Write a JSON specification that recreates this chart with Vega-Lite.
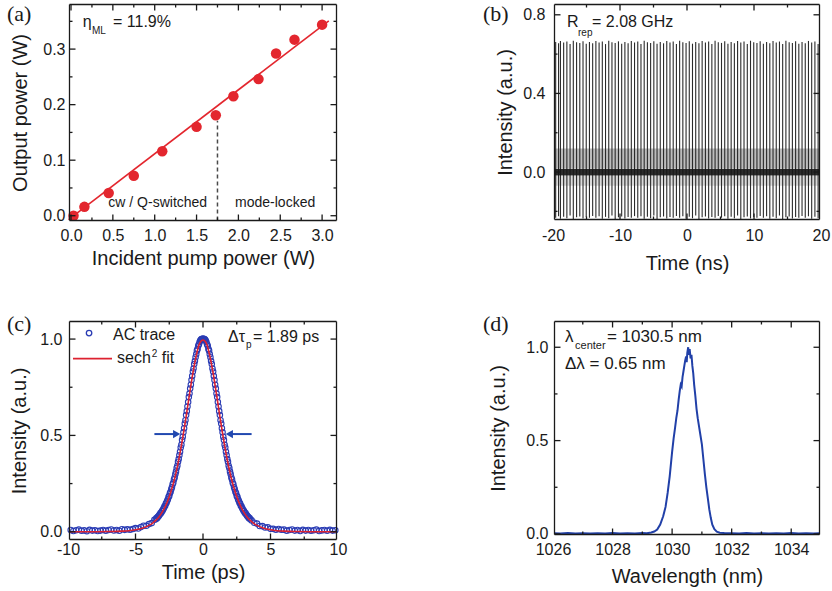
{
"$schema": "https://vega.github.io/schema/vega-lite/v6.json",
"background": "white",
"padding": {"left": 7, "top": 3, "right": 2, "bottom": 2},
"columns": 2,
"spacing": {"row": 98, "column": 215},
"bounds": "flush",
"config": {
  "font": "Liberation Sans",
  "view": {"stroke": null},
  "axis": {"domain": false, "ticks": false, "grid": false, "labelFont": "Liberation Sans", "labelFontSize": 16, "labelColor": "#1a1a1a", "titleFont": "Liberation Sans", "titleFontSize": 20, "titleFontWeight": "normal", "titleColor": "#1a1a1a", "labelFlush": false, "labelOverlap": false, "labelBound": false},
  "text": {"font": "Liberation Sans", "color": "#1a1a1a", "align": "left", "baseline": "alphabetic"}
},
"concat": [
{
  "width": 270, "height": 219,
  "title": {"text": "(a)", "anchor": "start", "frame": "group", "orient": "top", "offset": 0, "dx": -61, "dy": 23, "baseline": "top", "font": "Liberation Serif", "fontSize": 22, "fontWeight": "normal", "color": "#1a1a1a"},
  "layer": [
    {
      "data": {"values": [{"pump": -0.03, "out": -0.007}, {"pump": 3.08, "out": 0.351}]},
      "mark": {"type": "line", "color": "#e3262e", "strokeWidth": 1.6, "clip": true},
      "encoding": {
        "x": {"field": "pump", "type": "quantitative", "scale": {"domain": [-0.036, 3.19], "nice": false, "zero": false}, "axis": null},
        "y": {"field": "out", "type": "quantitative", "scale": {"domain": [-0.0113, 0.383], "nice": false, "zero": false}, "axis": null}
      }
    },
    {
      "data": {"values": [{"pump": 1.75, "lo": -0.0086, "hi": 0.171}]},
      "mark": {"type": "rule", "color": "#4a4a4a", "strokeWidth": 1.5, "strokeDash": [4, 3]},
      "encoding": {
        "x": {"field": "pump", "type": "quantitative", "scale": {"domain": [-0.036, 3.19], "nice": false, "zero": false}, "axis": null},
        "y": {"field": "lo", "type": "quantitative", "scale": {"domain": [-0.0113, 0.383], "nice": false, "zero": false}, "axis": null},
        "y2": {"field": "hi"}
      }
    },
    {
      "data": {"values": [
        {"pump": 0.03, "out": 0.000}, {"pump": 0.16, "out": 0.016}, {"pump": 0.45, "out": 0.041},
        {"pump": 0.75, "out": 0.072}, {"pump": 1.09, "out": 0.116}, {"pump": 1.50, "out": 0.160},
        {"pump": 1.73, "out": 0.181}, {"pump": 1.94, "out": 0.215}, {"pump": 2.24, "out": 0.246},
        {"pump": 2.45, "out": 0.292}, {"pump": 2.67, "out": 0.317}, {"pump": 3.00, "out": 0.344}
      ]},
      "mark": {"type": "point", "shape": "circle", "filled": true, "size": 110, "color": "#e3262e", "opacity": 1},
      "encoding": {
        "x": {"field": "pump", "type": "quantitative", "scale": {"domain": [-0.036, 3.19], "nice": false, "zero": false},
              "axis": {"orient": "bottom", "title": "Incident pump power (W)", "values": [0,0.5,1,1.5,2,2.5,3], "format": ".1f", "labelPadding": 5, "titlePadding": 5}},
        "y": {"field": "out", "type": "quantitative", "scale": {"domain": [-0.0113, 0.383], "nice": false, "zero": false},
              "axis": {"orient": "left", "title": "Output power (W)", "values": [0,0.1,0.2,0.3], "format": ".1f", "labelPadding": 3, "titlePadding": 12}}
      }
    },
    {
      "data": {"values": [
        {"a": -0.0181, "b": -0.0086, "b2": 0.3803}, {"a": 3.1721, "b": -0.0086, "b2": 0.3803},
        {"a": 0, "b": -0.0086, "b2": 0.0022}, {"a": 0.5, "b": -0.0086, "b2": 0.0022}, {"a": 1, "b": -0.0086, "b2": 0.0022}, {"a": 1.5, "b": -0.0086, "b2": 0.0022},
        {"a": 2, "b": -0.0086, "b2": 0.0022}, {"a": 2.5, "b": -0.0086, "b2": 0.0022}, {"a": 3, "b": -0.0086, "b2": 0.0022},
        {"a": 0, "b": 0.3695, "b2": 0.3803}, {"a": 0.5, "b": 0.3695, "b2": 0.3803}, {"a": 1, "b": 0.3695, "b2": 0.3803}, {"a": 1.5, "b": 0.3695, "b2": 0.3803},
        {"a": 2, "b": 0.3695, "b2": 0.3803}, {"a": 2.5, "b": 0.3695, "b2": 0.3803}, {"a": 3, "b": 0.3695, "b2": 0.3803},
        {"a": 0.25, "b": -0.0086, "b2": -0.0032}, {"a": 0.75, "b": -0.0086, "b2": -0.0032}, {"a": 1.25, "b": -0.0086, "b2": -0.0032},
        {"a": 1.75, "b": -0.0086, "b2": -0.0032}, {"a": 2.25, "b": -0.0086, "b2": -0.0032}, {"a": 2.75, "b": -0.0086, "b2": -0.0032},
        {"a": 0.25, "b": 0.3749, "b2": 0.3803}, {"a": 0.75, "b": 0.3749, "b2": 0.3803}, {"a": 1.25, "b": 0.3749, "b2": 0.3803},
        {"a": 1.75, "b": 0.3749, "b2": 0.3803}, {"a": 2.25, "b": 0.3749, "b2": 0.3803}, {"a": 2.75, "b": 0.3749, "b2": 0.3803}
      ]},
      "mark": {"type": "rule", "color": "#1a1a1a", "strokeWidth": 1.3},
      "encoding": {
        "x": {"field": "a", "type": "quantitative", "scale": {"domain": [-0.036, 3.19], "nice": false, "zero": false}, "axis": null},
        "y": {"field": "b", "type": "quantitative", "scale": {"domain": [-0.0113, 0.383], "nice": false, "zero": false}, "axis": null},
        "y2": {"field": "b2"}
      }
    },
    {
      "data": {"values": [
        {"b": -0.0086, "a": -0.0181, "a2": 3.1721}, {"b": 0.3803, "a": -0.0181, "a2": 3.1721},
        {"b": 0, "a": -0.0181, "a2": 0.0536}, {"b": 0.1, "a": -0.0181, "a2": 0.0536}, {"b": 0.2, "a": -0.0181, "a2": 0.0536}, {"b": 0.3, "a": -0.0181, "a2": 0.0536},
        {"b": 0, "a": 3.1004, "a2": 3.1721}, {"b": 0.1, "a": 3.1004, "a2": 3.1721}, {"b": 0.2, "a": 3.1004, "a2": 3.1721}, {"b": 0.3, "a": 3.1004, "a2": 3.1721},
        {"b": 0.05, "a": -0.0181, "a2": 0.0178}, {"b": 0.15, "a": -0.0181, "a2": 0.0178}, {"b": 0.25, "a": -0.0181, "a2": 0.0178}, {"b": 0.35, "a": -0.0181, "a2": 0.0178},
        {"b": 0.05, "a": 3.1363, "a2": 3.1721}, {"b": 0.15, "a": 3.1363, "a2": 3.1721}, {"b": 0.25, "a": 3.1363, "a2": 3.1721}, {"b": 0.35, "a": 3.1363, "a2": 3.1721}
      ]},
      "mark": {"type": "rule", "color": "#1a1a1a", "strokeWidth": 1.3},
      "encoding": {
        "x": {"field": "a", "type": "quantitative", "scale": {"domain": [-0.036, 3.19], "nice": false, "zero": false}, "axis": null},
        "x2": {"field": "a2"},
        "y": {"field": "b", "type": "quantitative", "scale": {"domain": [-0.0113, 0.383], "nice": false, "zero": false}, "axis": null}
      }
    },
    {
      "data": {"values": [{"pump": 0.14, "out": 0.339, "label": "η"}, {"pump": 0.502, "out": 0.339, "label": "= 11.9%"}]},
      "mark": {"type": "text", "fontSize": 16},
      "encoding": {
        "x": {"field": "pump", "type": "quantitative", "scale": {"domain": [-0.036, 3.19], "nice": false, "zero": false}, "axis": null},
        "y": {"field": "out", "type": "quantitative", "scale": {"domain": [-0.0113, 0.383], "nice": false, "zero": false}, "axis": null},
        "text": {"field": "label"}
      }
    },
    {
      "data": {"values": [{"pump": 0.251, "out": 0.327, "label": "ML"}]},
      "mark": {"type": "text", "fontSize": 10},
      "encoding": {
        "x": {"field": "pump", "type": "quantitative", "scale": {"domain": [-0.036, 3.19], "nice": false, "zero": false}, "axis": null},
        "y": {"field": "out", "type": "quantitative", "scale": {"domain": [-0.0113, 0.383], "nice": false, "zero": false}, "axis": null},
        "text": {"field": "label"}
      }
    },
    {
      "data": {"values": [{"pump": 0.446, "out": 0.0151, "label": "cw / Q-switched"}, {"pump": 1.960, "out": 0.0151, "label": "mode-locked"}]},
      "mark": {"type": "text", "fontSize": 14},
      "encoding": {
        "x": {"field": "pump", "type": "quantitative", "scale": {"domain": [-0.036, 3.19], "nice": false, "zero": false}, "axis": null},
        "y": {"field": "out", "type": "quantitative", "scale": {"domain": [-0.0113, 0.383], "nice": false, "zero": false}, "axis": null},
        "text": {"field": "label"}
      }
    }
  ],
  "resolve": {"axis": {"x": "independent", "y": "independent"}}
},
{
  "width": 268, "height": 218,
  "title": {"text": "(b)", "anchor": "start", "frame": "group", "orient": "top", "offset": 0, "dx": -70, "dy": 23, "baseline": "top", "font": "Liberation Serif", "fontSize": 22, "fontWeight": "normal", "color": "#1a1a1a"},
  "layer": [
    {
      "data": {"values": [{"t": -19.78, "lo": 0.02, "hi": 0.12}, {"t": 19.78, "lo": 0.02, "hi": 0.12}]},
      "mark": {"type": "area", "color": "#6a6a6a", "opacity": 0.45},
      "encoding": {
        "x": {"field": "t", "type": "quantitative", "scale": {"domain": [-20, 20], "nice": false, "zero": false}, "axis": null},
        "y": {"field": "lo", "type": "quantitative", "scale": {"domain": [-0.249, 0.86], "nice": false, "zero": false}, "axis": null},
        "y2": {"field": "hi"}
      }
    },
    {
      "data": {"values": [{"t": -19.78, "lo": -0.07, "hi": -0.02}, {"t": 19.78, "lo": -0.07, "hi": -0.02}]},
      "mark": {"type": "area", "color": "#6a6a6a", "opacity": 0.25},
      "encoding": {
        "x": {"field": "t", "type": "quantitative", "scale": {"domain": [-20, 20], "nice": false, "zero": false}, "axis": null},
        "y": {"field": "lo", "type": "quantitative", "scale": {"domain": [-0.249, 0.86], "nice": false, "zero": false}, "axis": null},
        "y2": {"field": "hi"}
      }
    },
    {
      "data": {"values": [
        {"t": -19.60, "hi": 0.662, "lo": -0.232}, {"t": -19.17, "hi": 0.655, "lo": -0.225}, {"t": -18.89, "hi": 0.667, "lo": -0.238},
        {"t": -18.41, "hi": 0.659, "lo": -0.228}, {"t": -17.93, "hi": 0.664, "lo": -0.235}, {"t": -17.45, "hi": 0.651, "lo": -0.221},
        {"t": -16.97, "hi": 0.668, "lo": -0.240}, {"t": -16.48, "hi": 0.660, "lo": -0.230}, {"t": -16.00, "hi": 0.657, "lo": -0.226},
        {"t": -15.52, "hi": 0.665, "lo": -0.236}, {"t": -15.04, "hi": 0.653, "lo": -0.229}, {"t": -14.56, "hi": 0.662, "lo": -0.233},
        {"t": -14.08, "hi": 0.655, "lo": -0.224}, {"t": -13.60, "hi": 0.667, "lo": -0.232}, {"t": -13.12, "hi": 0.659, "lo": -0.225},
        {"t": -12.64, "hi": 0.664, "lo": -0.238}, {"t": -12.16, "hi": 0.651, "lo": -0.228}, {"t": -11.68, "hi": 0.668, "lo": -0.235},
        {"t": -11.20, "hi": 0.660, "lo": -0.221}, {"t": -10.72, "hi": 0.657, "lo": -0.240}, {"t": -10.23, "hi": 0.665, "lo": -0.230},
        {"t": -9.75, "hi": 0.653, "lo": -0.226}, {"t": -9.27, "hi": 0.662, "lo": -0.236}, {"t": -8.79, "hi": 0.655, "lo": -0.229},
        {"t": -8.31, "hi": 0.667, "lo": -0.233}, {"t": -7.83, "hi": 0.659, "lo": -0.224}, {"t": -7.35, "hi": 0.664, "lo": -0.232},
        {"t": -6.87, "hi": 0.651, "lo": -0.225}, {"t": -6.39, "hi": 0.668, "lo": -0.238}, {"t": -5.91, "hi": 0.660, "lo": -0.228},
        {"t": -5.43, "hi": 0.657, "lo": -0.235}, {"t": -4.95, "hi": 0.665, "lo": -0.221}, {"t": -4.47, "hi": 0.653, "lo": -0.240},
        {"t": -3.99, "hi": 0.662, "lo": -0.230}, {"t": -3.50, "hi": 0.655, "lo": -0.226}, {"t": -3.02, "hi": 0.667, "lo": -0.236},
        {"t": -2.54, "hi": 0.659, "lo": -0.229}, {"t": -2.06, "hi": 0.664, "lo": -0.233}, {"t": -1.58, "hi": 0.651, "lo": -0.224},
        {"t": -1.10, "hi": 0.668, "lo": -0.232}, {"t": -0.62, "hi": 0.660, "lo": -0.225}, {"t": -0.14, "hi": 0.657, "lo": -0.238},
        {"t": 0.34, "hi": 0.665, "lo": -0.228}, {"t": 0.82, "hi": 0.653, "lo": -0.235}, {"t": 1.30, "hi": 0.662, "lo": -0.221},
        {"t": 1.78, "hi": 0.655, "lo": -0.240}, {"t": 2.26, "hi": 0.667, "lo": -0.230}, {"t": 2.75, "hi": 0.659, "lo": -0.226},
        {"t": 3.23, "hi": 0.664, "lo": -0.236}, {"t": 3.71, "hi": 0.651, "lo": -0.229}, {"t": 4.19, "hi": 0.668, "lo": -0.233},
        {"t": 4.67, "hi": 0.660, "lo": -0.224}, {"t": 5.15, "hi": 0.657, "lo": -0.232}, {"t": 5.63, "hi": 0.665, "lo": -0.225},
        {"t": 6.11, "hi": 0.653, "lo": -0.238}, {"t": 6.59, "hi": 0.662, "lo": -0.228}, {"t": 7.07, "hi": 0.655, "lo": -0.235},
        {"t": 7.55, "hi": 0.667, "lo": -0.221}, {"t": 8.03, "hi": 0.659, "lo": -0.240}, {"t": 8.51, "hi": 0.664, "lo": -0.230},
        {"t": 9.00, "hi": 0.651, "lo": -0.226}, {"t": 9.48, "hi": 0.668, "lo": -0.236}, {"t": 9.96, "hi": 0.660, "lo": -0.229},
        {"t": 10.44, "hi": 0.657, "lo": -0.233}, {"t": 10.92, "hi": 0.665, "lo": -0.224}, {"t": 11.40, "hi": 0.653, "lo": -0.232},
        {"t": 11.88, "hi": 0.662, "lo": -0.225}, {"t": 12.36, "hi": 0.655, "lo": -0.238}, {"t": 12.84, "hi": 0.667, "lo": -0.228},
        {"t": 13.32, "hi": 0.659, "lo": -0.235}, {"t": 13.80, "hi": 0.664, "lo": -0.221}, {"t": 14.28, "hi": 0.651, "lo": -0.240},
        {"t": 14.76, "hi": 0.668, "lo": -0.230}, {"t": 15.25, "hi": 0.660, "lo": -0.226}, {"t": 15.73, "hi": 0.657, "lo": -0.236},
        {"t": 16.21, "hi": 0.665, "lo": -0.229}, {"t": 16.69, "hi": 0.653, "lo": -0.233}, {"t": 17.17, "hi": 0.662, "lo": -0.224},
        {"t": 17.65, "hi": 0.655, "lo": -0.232}, {"t": 18.13, "hi": 0.667, "lo": -0.225}, {"t": 18.61, "hi": 0.659, "lo": -0.238},
        {"t": 19.09, "hi": 0.664, "lo": -0.228}, {"t": 19.57, "hi": 0.651, "lo": -0.235}
      ]},
      "mark": {"type": "rule", "color": "#2a2a2a", "strokeWidth": 1.1},
      "encoding": {
        "x": {"field": "t", "type": "quantitative", "scale": {"domain": [-20, 20], "nice": false, "zero": false},
              "axis": {"orient": "bottom", "title": "Time (ns)", "values": [-20,-10,0,10,20],
                       "labelExpr": "datum.value < 0 ? '-' + abs(datum.value) : '' + datum.value", "labelPadding": 6, "titlePadding": 10}},
        "y": {"field": "lo", "type": "quantitative", "scale": {"domain": [-0.249, 0.86], "nice": false, "zero": false},
              "axis": {"orient": "left", "title": "Intensity (a.u.)", "values": [0,0.4,0.8], "format": ".1f", "labelPadding": 8, "titlePadding": 7}},
        "y2": {"field": "hi"}
      }
    },
    {
      "data": {"values": [{"t": -19.78, "lo": -0.017, "hi": 0.017}, {"t": 19.78, "lo": -0.017, "hi": 0.017}]},
      "mark": {"type": "area", "color": "#141414", "opacity": 0.9},
      "encoding": {
        "x": {"field": "t", "type": "quantitative", "scale": {"domain": [-20, 20], "nice": false, "zero": false}, "axis": null},
        "y": {"field": "lo", "type": "quantitative", "scale": {"domain": [-0.249, 0.86], "nice": false, "zero": false}, "axis": null},
        "y2": {"field": "hi"}
      }
    },
    {
      "data": {"values": [
        {"a": -19.776, "b": -0.2414, "b2": 0.8524}, {"a": 19.776, "b": -0.2414, "b2": 0.8524},
        {"a": -10, "b": -0.2414, "b2": -0.2109}, {"a": 0, "b": -0.2414, "b2": -0.2109}, {"a": 10, "b": -0.2414, "b2": -0.2109},
        {"a": -10, "b": 0.8219, "b2": 0.8524}, {"a": 0, "b": 0.8219, "b2": 0.8524}, {"a": 10, "b": 0.8219, "b2": 0.8524},
        {"a": -15, "b": -0.2414, "b2": -0.2261}, {"a": -5, "b": -0.2414, "b2": -0.2261}, {"a": 5, "b": -0.2414, "b2": -0.2261}, {"a": 15, "b": -0.2414, "b2": -0.2261},
        {"a": -15, "b": 0.8371, "b2": 0.8524}, {"a": -5, "b": 0.8371, "b2": 0.8524}, {"a": 5, "b": 0.8371, "b2": 0.8524}, {"a": 15, "b": 0.8371, "b2": 0.8524}
      ]},
      "mark": {"type": "rule", "color": "#1a1a1a", "strokeWidth": 1.3},
      "encoding": {
        "x": {"field": "a", "type": "quantitative", "scale": {"domain": [-20, 20], "nice": false, "zero": false}, "axis": null},
        "y": {"field": "b", "type": "quantitative", "scale": {"domain": [-0.249, 0.86], "nice": false, "zero": false}, "axis": null},
        "y2": {"field": "b2"}
      }
    },
    {
      "data": {"values": [
        {"b": -0.2414, "a": -19.776, "a2": 19.776}, {"b": 0.8524, "a": -19.776, "a2": 19.776},
        {"b": 0, "a": -19.776, "a2": -18.88}, {"b": 0.4, "a": -19.776, "a2": -18.88}, {"b": 0.8, "a": -19.776, "a2": -18.88},
        {"b": 0, "a": 18.88, "a2": 19.776}, {"b": 0.4, "a": 18.88, "a2": 19.776}, {"b": 0.8, "a": 18.88, "a2": 19.776},
        {"b": -0.2, "a": -19.776, "a2": -19.328}, {"b": 0.2, "a": -19.776, "a2": -19.328}, {"b": 0.6, "a": -19.776, "a2": -19.328},
        {"b": -0.2, "a": 19.328, "a2": 19.776}, {"b": 0.2, "a": 19.328, "a2": 19.776}, {"b": 0.6, "a": 19.328, "a2": 19.776}
      ]},
      "mark": {"type": "rule", "color": "#1a1a1a", "strokeWidth": 1.3},
      "encoding": {
        "x": {"field": "a", "type": "quantitative", "scale": {"domain": [-20, 20], "nice": false, "zero": false}, "axis": null},
        "x2": {"field": "a2"},
        "y": {"field": "b", "type": "quantitative", "scale": {"domain": [-0.249, 0.86], "nice": false, "zero": false}, "axis": null}
      }
    },
    {
      "data": {"values": [{"t": -17.91, "v": 0.736, "label": "R"}, {"t": -14.18, "v": 0.736, "label": "= 2.08 GHz"}]},
      "mark": {"type": "text", "fontSize": 16},
      "encoding": {
        "x": {"field": "t", "type": "quantitative", "scale": {"domain": [-20, 20], "nice": false, "zero": false}, "axis": null},
        "y": {"field": "v", "type": "quantitative", "scale": {"domain": [-0.249, 0.86], "nice": false, "zero": false}, "axis": null},
        "text": {"field": "label"}
      }
    },
    {
      "data": {"values": [{"t": -16.27, "v": 0.690, "label": "rep"}]},
      "mark": {"type": "text", "fontSize": 10},
      "encoding": {
        "x": {"field": "t", "type": "quantitative", "scale": {"domain": [-20, 20], "nice": false, "zero": false}, "axis": null},
        "y": {"field": "v", "type": "quantitative", "scale": {"domain": [-0.249, 0.86], "nice": false, "zero": false}, "axis": null},
        "text": {"field": "label"}
      }
    }
  ],
  "resolve": {"axis": {"x": "independent", "y": "independent"}}
},
{
  "width": 270, "height": 221,
  "title": {"text": "(c)", "anchor": "start", "frame": "group", "orient": "top", "offset": 0, "dx": -61, "dy": 16, "baseline": "top", "font": "Liberation Serif", "fontSize": 22, "fontWeight": "normal", "color": "#1a1a1a"},
  "layer": [
    {
      "data": {"values": [
        {"t": -9.8, "v": 0.009}, {"t": -9.6, "v": 0.004}, {"t": -9.4, "v": 0.008}, {"t": -9.2, "v": 0.011},
        {"t": -9.0, "v": 0.005}, {"t": -8.8, "v": 0.007}, {"t": -8.6, "v": 0.003}, {"t": -8.4, "v": 0.010}, {"t": -8.2, "v": 0.006},
        {"t": -8.0, "v": 0.008}, {"t": -7.8, "v": 0.004}, {"t": -7.6, "v": 0.006}, {"t": -7.4, "v": 0.009}, {"t": -7.2, "v": 0.005},
        {"t": -7.0, "v": 0.009}, {"t": -6.8, "v": 0.012}, {"t": -6.6, "v": 0.0065}, {"t": -6.4, "v": 0.009}, {"t": -6.2, "v": 0.0054},
        {"t": -6.0, "v": 0.013}, {"t": -5.8, "v": 0.0098}, {"t": -5.6, "v": 0.0129}, {"t": -5.4, "v": 0.0102}, {"t": -5.2, "v": 0.0139},
        {"t": -5.0, "v": 0.019}, {"t": -4.8, "v": 0.0167}, {"t": -4.6, "v": 0.0241}, {"t": -4.4, "v": 0.0315}, {"t": -4.2, "v": 0.0308},
        {"t": -4.0, "v": 0.0397}, {"t": -3.8, "v": 0.0448}, {"t": -3.6, "v": 0.0622},
        {"t": -3.50, "v": 0.065}, {"t": -3.45, "v": 0.071}, {"t": -3.40, "v": 0.070}, {"t": -3.35, "v": 0.078}, {"t": -3.30, "v": 0.079},
        {"t": -3.25, "v": 0.085}, {"t": -3.20, "v": 0.089}, {"t": -3.15, "v": 0.097}, {"t": -3.10, "v": 0.097}, {"t": -3.05, "v": 0.107},
        {"t": -3.00, "v": 0.109}, {"t": -2.95, "v": 0.117}, {"t": -2.90, "v": 0.123}, {"t": -2.85, "v": 0.132}, {"t": -2.80, "v": 0.135},
        {"t": -2.75, "v": 0.146}, {"t": -2.70, "v": 0.151}, {"t": -2.65, "v": 0.161}, {"t": -2.60, "v": 0.169}, {"t": -2.55, "v": 0.181},
        {"t": -2.50, "v": 0.186}, {"t": -2.45, "v": 0.200}, {"t": -2.40, "v": 0.207}, {"t": -2.35, "v": 0.220}, {"t": -2.30, "v": 0.231},
        {"t": -2.25, "v": 0.246}, {"t": -2.20, "v": 0.254}, {"t": -2.15, "v": 0.271}, {"t": -2.10, "v": 0.282}, {"t": -2.05, "v": 0.298},
        {"t": -2.00, "v": 0.312}, {"t": -1.95, "v": 0.331}, {"t": -1.90, "v": 0.342}, {"t": -1.85, "v": 0.363}, {"t": -1.80, "v": 0.377},
        {"t": -1.75, "v": 0.397}, {"t": -1.70, "v": 0.415}, {"t": -1.65, "v": 0.437}, {"t": -1.60, "v": 0.451}, {"t": -1.55, "v": 0.476},
        {"t": -1.50, "v": 0.493}, {"t": -1.45, "v": 0.516}, {"t": -1.40, "v": 0.537}, {"t": -1.35, "v": 0.562}, {"t": -1.30, "v": 0.579},
        {"t": -1.25, "v": 0.606}, {"t": -1.20, "v": 0.626}, {"t": -1.15, "v": 0.650}, {"t": -1.10, "v": 0.673}, {"t": -1.05, "v": 0.699},
        {"t": -1.00, "v": 0.717}, {"t": -0.95, "v": 0.743}, {"t": -0.90, "v": 0.763}, {"t": -0.85, "v": 0.787}, {"t": -0.80, "v": 0.808},
        {"t": -0.75, "v": 0.832}, {"t": -0.70, "v": 0.847}, {"t": -0.65, "v": 0.871}, {"t": -0.60, "v": 0.886}, {"t": -0.55, "v": 0.906},
        {"t": -0.50, "v": 0.921}, {"t": -0.45, "v": 0.940}, {"t": -0.40, "v": 0.949}, {"t": -0.35, "v": 0.965}, {"t": -0.30, "v": 0.973},
        {"t": -0.25, "v": 0.985}, {"t": -0.20, "v": 0.992}, {"t": -0.15, "v": 0.997}, {"t": -0.10, "v": 1.000}, {"t": -0.05, "v": 1.002},
        {"t": 0.00, "v": 1.002},
        {"t": 0.05, "v": 1.002}, {"t": 0.10, "v": 1.000}, {"t": 0.15, "v": 0.997}, {"t": 0.20, "v": 0.992}, {"t": 0.25, "v": 0.985},
        {"t": 0.30, "v": 0.973}, {"t": 0.35, "v": 0.965}, {"t": 0.40, "v": 0.949}, {"t": 0.45, "v": 0.940}, {"t": 0.50, "v": 0.921},
        {"t": 0.55, "v": 0.906}, {"t": 0.60, "v": 0.886}, {"t": 0.65, "v": 0.871}, {"t": 0.70, "v": 0.847}, {"t": 0.75, "v": 0.832},
        {"t": 0.80, "v": 0.808}, {"t": 0.85, "v": 0.787}, {"t": 0.90, "v": 0.763}, {"t": 0.95, "v": 0.743}, {"t": 1.00, "v": 0.717},
        {"t": 1.05, "v": 0.699}, {"t": 1.10, "v": 0.673}, {"t": 1.15, "v": 0.650}, {"t": 1.20, "v": 0.626}, {"t": 1.25, "v": 0.606},
        {"t": 1.30, "v": 0.579}, {"t": 1.35, "v": 0.562}, {"t": 1.40, "v": 0.537}, {"t": 1.45, "v": 0.516}, {"t": 1.50, "v": 0.493},
        {"t": 1.55, "v": 0.476}, {"t": 1.60, "v": 0.451}, {"t": 1.65, "v": 0.437}, {"t": 1.70, "v": 0.415}, {"t": 1.75, "v": 0.397},
        {"t": 1.80, "v": 0.377}, {"t": 1.85, "v": 0.363}, {"t": 1.90, "v": 0.342}, {"t": 1.95, "v": 0.331}, {"t": 2.00, "v": 0.312},
        {"t": 2.05, "v": 0.298}, {"t": 2.10, "v": 0.282}, {"t": 2.15, "v": 0.271}, {"t": 2.20, "v": 0.254}, {"t": 2.25, "v": 0.246},
        {"t": 2.30, "v": 0.231}, {"t": 2.35, "v": 0.220}, {"t": 2.40, "v": 0.207}, {"t": 2.45, "v": 0.200}, {"t": 2.50, "v": 0.186},
        {"t": 2.55, "v": 0.181}, {"t": 2.60, "v": 0.169}, {"t": 2.65, "v": 0.161}, {"t": 2.70, "v": 0.151}, {"t": 2.75, "v": 0.146},
        {"t": 2.80, "v": 0.135}, {"t": 2.85, "v": 0.132}, {"t": 2.90, "v": 0.123}, {"t": 2.95, "v": 0.117}, {"t": 3.00, "v": 0.109},
        {"t": 3.05, "v": 0.107}, {"t": 3.10, "v": 0.097}, {"t": 3.15, "v": 0.097}, {"t": 3.20, "v": 0.089}, {"t": 3.25, "v": 0.085},
        {"t": 3.30, "v": 0.079}, {"t": 3.35, "v": 0.078}, {"t": 3.40, "v": 0.070}, {"t": 3.45, "v": 0.071}, {"t": 3.50, "v": 0.065},
        {"t": 3.6, "v": 0.059}, {"t": 3.8, "v": 0.047}, {"t": 4.0, "v": 0.042}, {"t": 4.2, "v": 0.030}, {"t": 4.4, "v": 0.029},
        {"t": 4.6, "v": 0.022}, {"t": 4.8, "v": 0.023}, {"t": 5.0, "v": 0.015}, {"t": 5.2, "v": 0.015}, {"t": 5.4, "v": 0.010},
        {"t": 5.6, "v": 0.014}, {"t": 5.8, "v": 0.010}, {"t": 6.0, "v": 0.011}, {"t": 6.2, "v": 0.005}, {"t": 6.4, "v": 0.009},
        {"t": 6.6, "v": 0.012}, {"t": 6.8, "v": 0.006}, {"t": 7.0, "v": 0.009}, {"t": 7.2, "v": 0.004}, {"t": 7.4, "v": 0.010},
        {"t": 7.6, "v": 0.006}, {"t": 7.8, "v": 0.009}, {"t": 8.0, "v": 0.005}, {"t": 8.2, "v": 0.008}, {"t": 8.4, "v": 0.011},
        {"t": 8.6, "v": 0.004}, {"t": 8.8, "v": 0.007}, {"t": 9.0, "v": 0.009}, {"t": 9.2, "v": 0.005}, {"t": 9.4, "v": 0.010},
        {"t": 9.6, "v": 0.006}, {"t": 9.8, "v": 0.008}
      ]},
      "mark": {"type": "point", "shape": "circle", "filled": false, "size": 30, "stroke": "#2a3cb4", "strokeWidth": 1.1, "opacity": 1},
      "encoding": {
        "x": {"field": "t", "type": "quantitative", "scale": {"domain": [-10, 10], "nice": false, "zero": false},
              "axis": {"orient": "bottom", "title": "Time (ps)", "values": [-10,-5,0,5,10],
                       "labelExpr": "datum.value < 0 ? '-' + abs(datum.value) : '' + datum.value", "labelPadding": 0, "titlePadding": 5}},
        "y": {"field": "v", "type": "quantitative", "scale": {"domain": [-0.048, 1.099], "nice": false, "zero": false},
              "axis": {"orient": "left", "title": "Intensity (a.u.)", "values": [0,0.5,1], "format": ".1f", "labelPadding": 6, "titlePadding": 10}}
      }
    },
    {
      "data": {"values": [
        {"t": -9.88, "v": 0}, {"t": -8, "v": 0.0003}, {"t": -7, "v": 0.001}, {"t": -6, "v": 0.003}, {"t": -5.5, "v": 0.0055},
        {"t": -5, "v": 0.010}, {"t": -4.5, "v": 0.018}, {"t": -4, "v": 0.033}, {"t": -3.75, "v": 0.044}, {"t": -3.5, "v": 0.059},
        {"t": -3.25, "v": 0.078}, {"t": -3, "v": 0.104}, {"t": -2.75, "v": 0.138}, {"t": -2.5, "v": 0.182}, {"t": -2.25, "v": 0.237},
        {"t": -2, "v": 0.306}, {"t": -1.75, "v": 0.390}, {"t": -1.5, "v": 0.488}, {"t": -1.25, "v": 0.598}, {"t": -1, "v": 0.713},
        {"t": -0.75, "v": 0.823}, {"t": -0.5, "v": 0.915}, {"t": -0.25, "v": 0.978}, {"t": 0, "v": 0.995},
        {"t": 0.25, "v": 0.978}, {"t": 0.5, "v": 0.915}, {"t": 0.75, "v": 0.823}, {"t": 1, "v": 0.713}, {"t": 1.25, "v": 0.598},
        {"t": 1.5, "v": 0.488}, {"t": 1.75, "v": 0.390}, {"t": 2, "v": 0.306}, {"t": 2.25, "v": 0.237}, {"t": 2.5, "v": 0.182},
        {"t": 2.75, "v": 0.138}, {"t": 3, "v": 0.104}, {"t": 3.25, "v": 0.078}, {"t": 3.5, "v": 0.059}, {"t": 3.75, "v": 0.044},
        {"t": 4, "v": 0.033}, {"t": 4.5, "v": 0.018}, {"t": 5, "v": 0.010}, {"t": 5.5, "v": 0.0055}, {"t": 6, "v": 0.003},
        {"t": 7, "v": 0.001}, {"t": 8, "v": 0.0003}, {"t": 9.88, "v": 0}
      ]},
      "mark": {"type": "line", "color": "#dd2230", "strokeWidth": 1.6, "interpolate": "monotone"},
      "encoding": {
        "x": {"field": "t", "type": "quantitative", "scale": {"domain": [-10, 10], "nice": false, "zero": false}, "axis": null},
        "y": {"field": "v", "type": "quantitative", "scale": {"domain": [-0.048, 1.099], "nice": false, "zero": false}, "axis": null}
      }
    },
    {
      "data": {"values": [
        {"a": -9.889, "b": -0.0402, "b2": 1.0912}, {"a": 9.889, "b": -0.0402, "b2": 1.0912},
        {"a": -5, "b": -0.0402, "b2": -0.0091}, {"a": 0, "b": -0.0402, "b2": -0.0091}, {"a": 5, "b": -0.0402, "b2": -0.0091},
        {"a": -5, "b": 1.0601, "b2": 1.0912}, {"a": 0, "b": 1.0601, "b2": 1.0912}, {"a": 5, "b": 1.0601, "b2": 1.0912},
        {"a": -7.5, "b": -0.0402, "b2": -0.0246}, {"a": -2.5, "b": -0.0402, "b2": -0.0246}, {"a": 2.5, "b": -0.0402, "b2": -0.0246}, {"a": 7.5, "b": -0.0402, "b2": -0.0246},
        {"a": -7.5, "b": 1.0756, "b2": 1.0912}, {"a": -2.5, "b": 1.0756, "b2": 1.0912}, {"a": 2.5, "b": 1.0756, "b2": 1.0912}, {"a": 7.5, "b": 1.0756, "b2": 1.0912}
      ]},
      "mark": {"type": "rule", "color": "#1a1a1a", "strokeWidth": 1.3},
      "encoding": {
        "x": {"field": "a", "type": "quantitative", "scale": {"domain": [-10, 10], "nice": false, "zero": false}, "axis": null},
        "y": {"field": "b", "type": "quantitative", "scale": {"domain": [-0.048, 1.099], "nice": false, "zero": false}, "axis": null},
        "y2": {"field": "b2"}
      }
    },
    {
      "data": {"values": [
        {"b": -0.0402, "a": -9.889, "a2": 9.889}, {"b": 1.0912, "a": -9.889, "a2": 9.889},
        {"b": 0, "a": -9.889, "a2": -9.445}, {"b": 0.5, "a": -9.889, "a2": -9.445}, {"b": 1, "a": -9.889, "a2": -9.445},
        {"b": 0, "a": 9.445, "a2": 9.889}, {"b": 0.5, "a": 9.445, "a2": 9.889}, {"b": 1, "a": 9.445, "a2": 9.889},
        {"b": 0.25, "a": -9.889, "a2": -9.667}, {"b": 0.75, "a": -9.889, "a2": -9.667},
        {"b": 0.25, "a": 9.667, "a2": 9.889}, {"b": 0.75, "a": 9.667, "a2": 9.889}
      ]},
      "mark": {"type": "rule", "color": "#1a1a1a", "strokeWidth": 1.3},
      "encoding": {
        "x": {"field": "a", "type": "quantitative", "scale": {"domain": [-10, 10], "nice": false, "zero": false}, "axis": null},
        "x2": {"field": "a2"},
        "y": {"field": "b", "type": "quantitative", "scale": {"domain": [-0.048, 1.099], "nice": false, "zero": false}, "axis": null}
      }
    },
    {
      "data": {"values": [{"t0": -3.6, "t1": -2.1, "v": 0.507}, {"t0": 2.1, "t1": 3.6, "v": 0.507}]},
      "mark": {"type": "rule", "color": "#2148b0", "strokeWidth": 2},
      "encoding": {
        "x": {"field": "t0", "type": "quantitative", "scale": {"domain": [-10, 10], "nice": false, "zero": false}, "axis": null},
        "x2": {"field": "t1"},
        "y": {"field": "v", "type": "quantitative", "scale": {"domain": [-0.048, 1.099], "nice": false, "zero": false}, "axis": null}
      }
    },
    {
      "data": {"values": [{"t": -1.95, "v": 0.507}]},
      "mark": {"type": "point", "shape": "triangle-right", "filled": true, "size": 70, "color": "#2148b0", "opacity": 1},
      "encoding": {
        "x": {"field": "t", "type": "quantitative", "scale": {"domain": [-10, 10], "nice": false, "zero": false}, "axis": null},
        "y": {"field": "v", "type": "quantitative", "scale": {"domain": [-0.048, 1.099], "nice": false, "zero": false}, "axis": null}
      }
    },
    {
      "data": {"values": [{"t": 1.95, "v": 0.507}]},
      "mark": {"type": "point", "shape": "triangle-left", "filled": true, "size": 70, "color": "#2148b0", "opacity": 1},
      "encoding": {
        "x": {"field": "t", "type": "quantitative", "scale": {"domain": [-10, 10], "nice": false, "zero": false}, "axis": null},
        "y": {"field": "v", "type": "quantitative", "scale": {"domain": [-0.048, 1.099], "nice": false, "zero": false}, "axis": null}
      }
    },
    {
      "data": {"values": [{"t": -8.44, "v": 1.031}]},
      "mark": {"type": "point", "shape": "circle", "filled": false, "size": 30, "stroke": "#2a3cb4", "strokeWidth": 1.3, "opacity": 1},
      "encoding": {
        "x": {"field": "t", "type": "quantitative", "scale": {"domain": [-10, 10], "nice": false, "zero": false}, "axis": null},
        "y": {"field": "v", "type": "quantitative", "scale": {"domain": [-0.048, 1.099], "nice": false, "zero": false}, "axis": null}
      }
    },
    {
      "data": {"values": [{"t0": -9.63, "t1": -6.74, "v": 0.899}]},
      "mark": {"type": "rule", "color": "#dd2230", "strokeWidth": 1.8},
      "encoding": {
        "x": {"field": "t0", "type": "quantitative", "scale": {"domain": [-10, 10], "nice": false, "zero": false}, "axis": null},
        "x2": {"field": "t1"},
        "y": {"field": "v", "type": "quantitative", "scale": {"domain": [-0.048, 1.099], "nice": false, "zero": false}, "axis": null}
      }
    },
    {
      "data": {"values": [
        {"t": -6.67, "v": 0.995, "label": "AC trace"}, {"t": -6.37, "v": 0.876, "label": "sech"}, {"t": -3.05, "v": 0.876, "label": "fit"},
        {"t": 1.85, "v": 0.985, "label": "Δτ"}, {"t": 3.70, "v": 0.985, "label": "= 1.89 ps"}
      ]},
      "mark": {"type": "text", "fontSize": 16},
      "encoding": {
        "x": {"field": "t", "type": "quantitative", "scale": {"domain": [-10, 10], "nice": false, "zero": false}, "axis": null},
        "y": {"field": "v", "type": "quantitative", "scale": {"domain": [-0.048, 1.099], "nice": false, "zero": false}, "axis": null},
        "text": {"field": "label"}
      }
    },
    {
      "data": {"values": [{"t": -3.80, "v": 0.905, "label": "2"}, {"t": 3.19, "v": 0.953, "label": "p"}]},
      "mark": {"type": "text", "fontSize": 10},
      "encoding": {
        "x": {"field": "t", "type": "quantitative", "scale": {"domain": [-10, 10], "nice": false, "zero": false}, "axis": null},
        "y": {"field": "v", "type": "quantitative", "scale": {"domain": [-0.048, 1.099], "nice": false, "zero": false}, "axis": null},
        "text": {"field": "label"}
      }
    }
  ],
  "resolve": {"axis": {"x": "independent", "y": "independent"}}
},
{
  "width": 268, "height": 216,
  "title": {"text": "(d)", "anchor": "start", "frame": "group", "orient": "top", "offset": 0, "dx": -70, "dy": 16, "baseline": "top", "font": "Liberation Serif", "fontSize": 22, "fontWeight": "normal", "color": "#1a1a1a"},
  "layer": [
    {
      "data": {"values": [
        {"w": 1026.06, "v": 0.004}, {"w": 1026.25, "v": 0.003}, {"w": 1026.5, "v": 0.005}, {"w": 1026.75, "v": 0.003},
        {"w": 1027.0, "v": 0.004}, {"w": 1027.25, "v": 0.002}, {"w": 1027.5, "v": 0.004}, {"w": 1027.75, "v": 0.003},
        {"w": 1028.0, "v": 0.005}, {"w": 1028.25, "v": 0.003}, {"w": 1028.5, "v": 0.004}, {"w": 1028.75, "v": 0.003},
        {"w": 1029.0, "v": 0.005}, {"w": 1029.15, "v": 0.004}, {"w": 1029.3, "v": 0.008}, {"w": 1029.4, "v": 0.013},
        {"w": 1029.5, "v": 0.024}, {"w": 1029.6, "v": 0.05}, {"w": 1029.7, "v": 0.095}, {"w": 1029.78, "v": 0.145},
        {"w": 1029.85, "v": 0.22}, {"w": 1029.92, "v": 0.31}, {"w": 1030.0, "v": 0.44}, {"w": 1030.05, "v": 0.51},
        {"w": 1030.1, "v": 0.57}, {"w": 1030.14, "v": 0.62}, {"w": 1030.18, "v": 0.66}, {"w": 1030.22, "v": 0.72},
        {"w": 1030.26, "v": 0.77}, {"w": 1030.29, "v": 0.80}, {"w": 1030.32, "v": 0.79}, {"w": 1030.35, "v": 0.84},
        {"w": 1030.38, "v": 0.87}, {"w": 1030.41, "v": 0.90}, {"w": 1030.44, "v": 0.93}, {"w": 1030.47, "v": 0.95},
        {"w": 1030.49, "v": 0.92}, {"w": 1030.51, "v": 0.97}, {"w": 1030.54, "v": 1.0}, {"w": 1030.56, "v": 0.96},
        {"w": 1030.59, "v": 0.99}, {"w": 1030.62, "v": 0.94}, {"w": 1030.65, "v": 0.96}, {"w": 1030.68, "v": 0.90},
        {"w": 1030.71, "v": 0.86}, {"w": 1030.74, "v": 0.80}, {"w": 1030.78, "v": 0.74}, {"w": 1030.82, "v": 0.67},
        {"w": 1030.86, "v": 0.62}, {"w": 1030.9, "v": 0.58}, {"w": 1030.95, "v": 0.53}, {"w": 1031.0, "v": 0.48},
        {"w": 1031.05, "v": 0.40}, {"w": 1031.1, "v": 0.32}, {"w": 1031.15, "v": 0.25}, {"w": 1031.2, "v": 0.19},
        {"w": 1031.25, "v": 0.13}, {"w": 1031.3, "v": 0.085}, {"w": 1031.35, "v": 0.05}, {"w": 1031.42, "v": 0.025},
        {"w": 1031.5, "v": 0.012}, {"w": 1031.6, "v": 0.007}, {"w": 1031.75, "v": 0.005}, {"w": 1032.0, "v": 0.004},
        {"w": 1032.25, "v": 0.003}, {"w": 1032.5, "v": 0.005}, {"w": 1032.75, "v": 0.003}, {"w": 1033.0, "v": 0.004},
        {"w": 1033.25, "v": 0.002}, {"w": 1033.5, "v": 0.004}, {"w": 1033.75, "v": 0.003}, {"w": 1034.0, "v": 0.005},
        {"w": 1034.25, "v": 0.003}, {"w": 1034.5, "v": 0.004}, {"w": 1034.75, "v": 0.003}, {"w": 1034.94, "v": 0.004}
      ]},
      "mark": {"type": "line", "color": "#2140a8", "strokeWidth": 2},
      "encoding": {
        "x": {"field": "w", "type": "quantitative", "scale": {"domain": [1026, 1035], "nice": false, "zero": false},
              "axis": {"orient": "bottom", "title": "Wavelength (nm)", "values": [1026,1028,1030,1032,1034],
                       "labelExpr": "'' + datum.value", "labelPadding": 5, "titlePadding": 9}},
        "y": {"field": "v", "type": "quantitative", "scale": {"domain": [-0.011, 1.146], "nice": false, "zero": false},
              "axis": {"orient": "left", "title": "Intensity (a.u.)", "values": [0,0.5,1], "format": ".1f", "labelPadding": 5, "titlePadding": 17}}
      }
    },
    {
      "data": {"values": [
        {"a": 1026.0504, "b": -0.003, "b2": 1.138}, {"a": 1034.9496, "b": -0.003, "b2": 1.138},
        {"a": 1028, "b": -0.003, "b2": 0.0291}, {"a": 1030, "b": -0.003, "b2": 0.0291}, {"a": 1032, "b": -0.003, "b2": 0.0291}, {"a": 1034, "b": -0.003, "b2": 0.0291},
        {"a": 1028, "b": 1.1059, "b2": 1.138}, {"a": 1030, "b": 1.1059, "b2": 1.138}, {"a": 1032, "b": 1.1059, "b2": 1.138}, {"a": 1034, "b": 1.1059, "b2": 1.138},
        {"a": 1027, "b": -0.003, "b2": 0.0131}, {"a": 1029, "b": -0.003, "b2": 0.0131}, {"a": 1031, "b": -0.003, "b2": 0.0131}, {"a": 1033, "b": -0.003, "b2": 0.0131},
        {"a": 1027, "b": 1.1219, "b2": 1.138}, {"a": 1029, "b": 1.1219, "b2": 1.138}, {"a": 1031, "b": 1.1219, "b2": 1.138}, {"a": 1033, "b": 1.1219, "b2": 1.138}
      ]},
      "mark": {"type": "rule", "color": "#1a1a1a", "strokeWidth": 1.3},
      "encoding": {
        "x": {"field": "a", "type": "quantitative", "scale": {"domain": [1026, 1035], "nice": false, "zero": false}, "axis": null},
        "y": {"field": "b", "type": "quantitative", "scale": {"domain": [-0.011, 1.146], "nice": false, "zero": false}, "axis": null},
        "y2": {"field": "b2"}
      }
    },
    {
      "data": {"values": [
        {"b": -0.003, "a": 1026.0504, "a2": 1034.9496}, {"b": 1.138, "a": 1026.0504, "a2": 1034.9496},
        {"b": 0, "a": 1026.0504, "a2": 1026.2519}, {"b": 0.5, "a": 1026.0504, "a2": 1026.2519}, {"b": 1, "a": 1026.0504, "a2": 1026.2519},
        {"b": 0, "a": 1034.7481, "a2": 1034.9496}, {"b": 0.5, "a": 1034.7481, "a2": 1034.9496}, {"b": 1, "a": 1034.7481, "a2": 1034.9496},
        {"b": 0.25, "a": 1026.0504, "a2": 1026.1511}, {"b": 0.75, "a": 1026.0504, "a2": 1026.1511},
        {"b": 0.25, "a": 1034.8489, "a2": 1034.9496}, {"b": 0.75, "a": 1034.8489, "a2": 1034.9496}
      ]},
      "mark": {"type": "rule", "color": "#1a1a1a", "strokeWidth": 1.3},
      "encoding": {
        "x": {"field": "a", "type": "quantitative", "scale": {"domain": [1026, 1035], "nice": false, "zero": false}, "axis": null},
        "x2": {"field": "a2"},
        "y": {"field": "b", "type": "quantitative", "scale": {"domain": [-0.011, 1.146], "nice": false, "zero": false}, "axis": null}
      }
    },
    {
      "data": {"values": [{"w": 1026.40, "v": 1.027, "label": "λ"}, {"w": 1027.81, "v": 1.027, "label": "= 1030.5 nm"}, {"w": 1026.40, "v": 0.884, "label": "Δλ = 0.65 nm"}]},
      "mark": {"type": "text", "fontSize": 17},
      "encoding": {
        "x": {"field": "w", "type": "quantitative", "scale": {"domain": [1026, 1035], "nice": false, "zero": false}, "axis": null},
        "y": {"field": "v", "type": "quantitative", "scale": {"domain": [-0.011, 1.146], "nice": false, "zero": false}, "axis": null},
        "text": {"field": "label"}
      }
    },
    {
      "data": {"values": [{"w": 1026.74, "v": 0.991, "label": "center"}]},
      "mark": {"type": "text", "fontSize": 11},
      "encoding": {
        "x": {"field": "w", "type": "quantitative", "scale": {"domain": [1026, 1035], "nice": false, "zero": false}, "axis": null},
        "y": {"field": "v", "type": "quantitative", "scale": {"domain": [-0.011, 1.146], "nice": false, "zero": false}, "axis": null},
        "text": {"field": "label"}
      }
    }
  ],
  "resolve": {"axis": {"x": "independent", "y": "independent"}}
}
]
}
